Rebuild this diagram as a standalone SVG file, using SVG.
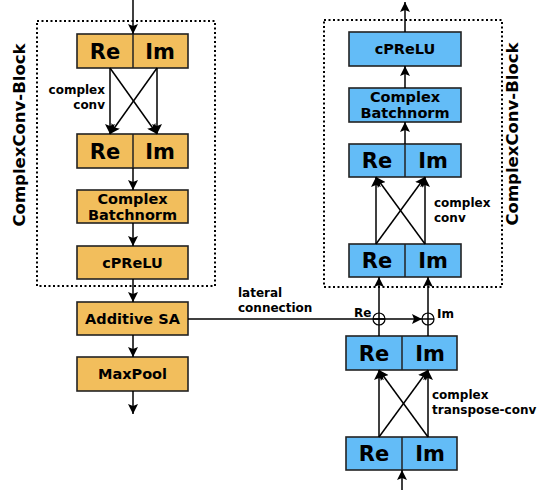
<svg xmlns="http://www.w3.org/2000/svg" width="543" height="490" viewBox="0 0 543 490">
<defs>
<marker id="ah" viewBox="0 0 10 10" refX="10" refY="5" markerWidth="10" markerHeight="10" markerUnits="userSpaceOnUse" orient="auto">
<path d="M0,0 L10,5 L0,10 L2,5 z" fill="#000"/>
</marker>
<style>
.o{fill:#F2BE5C;stroke:#222;stroke-width:1.6}
.b{fill:#63BCF7;stroke:#222;stroke-width:1.6}
.t{font-family:"DejaVu Sans",sans-serif;font-weight:bold;fill:#000;text-anchor:middle}
.big{font-size:21px}
.mid{font-size:14.5px}
.sm{font-size:12px;font-family:"DejaVu Sans",sans-serif;font-weight:bold;fill:#000}
.lb{font-size:16.5px}
.fr{fill:none;stroke:#000;stroke-width:2;stroke-dasharray:2,2.5}
.c line,.c path{stroke:#000;stroke-width:1.5;fill:none}
.a{marker-end:url(#ah)}
</style>
</defs>
<rect width="543" height="490" fill="#fff"/>
<g id="frames">
<rect class="fr" x="37" y="21" width="178" height="265"/>
<rect class="fr" x="324" y="20" width="178" height="267"/>
<text class="t lb" transform="translate(25,135) rotate(-90)">ComplexConv-Block</text>
<text class="t lb" transform="translate(518,134) rotate(-90)">ComplexConv-Block</text>
</g>
<g id="l-reim1"><rect class="o" x="77" y="34" width="111" height="34"/><line x1="133" y1="34" x2="133" y2="68" stroke="#222" stroke-width="1.5"/><text class="t big" x="105" y="59">Re</text><text class="t big" x="160" y="59">Im</text></g>
<g id="l-reim2"><rect class="o" x="77" y="134" width="111" height="34"/><line x1="133" y1="134" x2="133" y2="168" stroke="#222" stroke-width="1.5"/><text class="t big" x="105" y="159">Re</text><text class="t big" x="160" y="159">Im</text></g>
<g id="l-bn"><rect class="o" x="77" y="190" width="111" height="33"/><text class="t mid" x="132.5" y="204">Complex</text><text class="t mid" x="132.5" y="220">Batchnorm</text></g>
<g id="l-prelu"><rect class="o" x="77" y="246" width="111" height="33"/><text class="t mid" x="132.5" y="268">cPReLU</text></g>
<g id="l-sa"><rect class="o" x="77" y="302" width="111" height="33"/><text class="t mid" x="132.5" y="324">Additive SA</text></g>
<g id="l-mp"><rect class="o" x="77" y="357" width="111" height="34"/><text class="t mid" x="132.5" y="379">MaxPool</text></g>
<g id="r-prelu"><rect class="b" x="349" y="32" width="112" height="34"/><text class="t mid" x="405" y="54">cPReLU</text></g>
<g id="r-bn"><rect class="b" x="349" y="88" width="112" height="34"/><text class="t mid" x="405" y="102">Complex</text><text class="t mid" x="405" y="118">Batchnorm</text></g>
<g id="r-reim1"><rect class="b" x="349" y="144" width="112" height="33"/><line x1="405" y1="144" x2="405" y2="177" stroke="#222" stroke-width="1.5"/><text class="t big" x="377" y="168">Re</text><text class="t big" x="433" y="168">Im</text></g>
<g id="r-reim2"><rect class="b" x="349" y="244" width="112" height="33"/><line x1="405" y1="244" x2="405" y2="277" stroke="#222" stroke-width="1.5"/><text class="t big" x="377" y="268">Re</text><text class="t big" x="433" y="268">Im</text></g>
<g id="r-reim3"><rect class="b" x="346" y="336" width="111" height="34"/><line x1="402" y1="336" x2="402" y2="370" stroke="#222" stroke-width="1.5"/><text class="t big" x="374" y="361">Re</text><text class="t big" x="430" y="361">Im</text></g>
<g id="r-reim4"><rect class="b" x="346" y="437" width="111" height="33"/><line x1="402" y1="437" x2="402" y2="470" stroke="#222" stroke-width="1.5"/><text class="t big" x="374" y="461">Re</text><text class="t big" x="430" y="461">Im</text></g>
<g id="connectors" class="c">
<line class="a" x1="133" y1="0" x2="133" y2="34"/>
<line class="a" x1="110" y1="68" x2="110" y2="134"/>
<line class="a" x1="157" y1="68" x2="157" y2="134"/>
<line class="a" x1="110" y1="68" x2="157" y2="134"/>
<line class="a" x1="157" y1="68" x2="110" y2="134"/>
<line class="a" x1="133" y1="168" x2="133" y2="190"/>
<line class="a" x1="133" y1="223" x2="133" y2="246"/>
<line class="a" x1="133" y1="279" x2="133" y2="302"/>
<line class="a" x1="133" y1="335" x2="133" y2="357"/>
<line class="a" x1="133" y1="391" x2="133" y2="414"/>
<line class="a" x1="405" y1="32" x2="405" y2="2"/>
<line class="a" x1="405" y1="88" x2="405" y2="66"/>
<line class="a" x1="405" y1="144" x2="405" y2="122"/>
<line class="a" x1="376" y1="244" x2="376" y2="177"/>
<line class="a" x1="425" y1="244" x2="425" y2="177"/>
<line class="a" x1="376" y1="244" x2="425" y2="177"/>
<line class="a" x1="425" y1="244" x2="376" y2="177"/>
<line class="a" x1="379" y1="336" x2="379" y2="277"/>
<line class="a" x1="428" y1="336" x2="428" y2="277"/>
<line class="a" x1="379" y1="437" x2="379" y2="370"/>
<line class="a" x1="428" y1="437" x2="428" y2="370"/>
<line class="a" x1="379" y1="437" x2="428" y2="370"/>
<line class="a" x1="428" y1="437" x2="379" y2="370"/>
<line class="a" x1="402" y1="490" x2="402" y2="470"/>
<line class="a" x1="188" y1="319" x2="422" y2="319"/>
<circle cx="379" cy="319" r="6" fill="none" stroke="#000" stroke-width="1.2"/>
<circle cx="428" cy="319" r="6" fill="none" stroke="#000" stroke-width="1.2"/>
<line x1="373" y1="319" x2="385" y2="319" stroke-width="1"/>
<line x1="422" y1="319" x2="434" y2="319" stroke-width="1"/>
</g>
<g id="labels">
<text class="sm" x="105" y="94" text-anchor="end">complex</text>
<text class="sm" x="105" y="109" text-anchor="end">conv</text>
<text class="sm" x="434" y="207">complex</text>
<text class="sm" x="434" y="222">conv</text>
<text class="sm" x="432" y="399">complex</text>
<text class="sm" x="432" y="414">transpose-conv</text>
<text class="sm" x="238" y="297">lateral</text>
<text class="sm" x="238" y="312">connection</text>
<text class="sm" x="354" y="317" font-size="14px">Re</text>
<text class="sm" x="437" y="318" font-size="14px">Im</text>
</g>
</svg>
